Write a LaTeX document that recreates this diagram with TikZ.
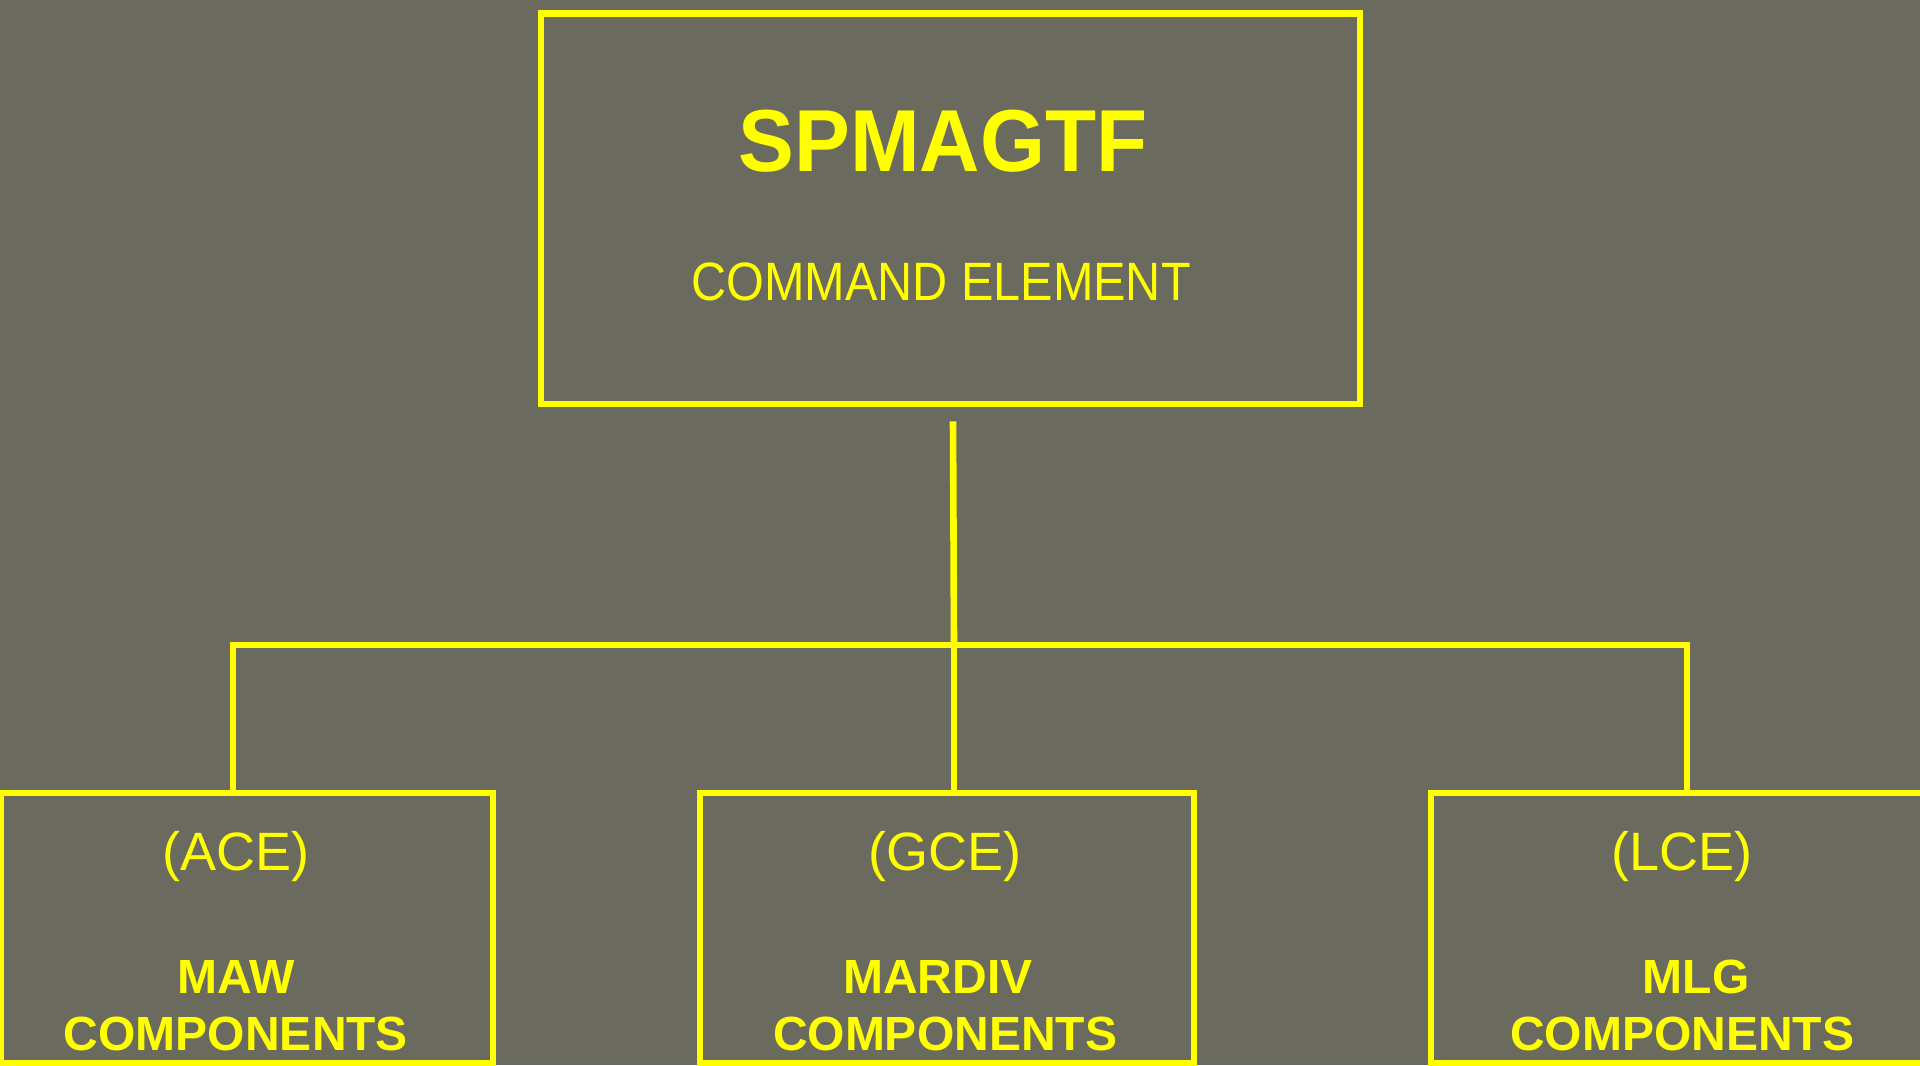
\documentclass[tikz,border=0pt]{standalone}
\usepackage{fontspec}
\setmainfont{Liberation Sans}
\newfontfamily\narrowsans[FakeStretch=0.90]{Liberation Sans}
\newfontfamily\titlesans[FakeStretch=0.95]{Liberation Sans Bold}
\usepackage{xcolor}
\usetikzlibrary{positioning,calc}
\definecolor{slate}{RGB}{106,107,94}
\definecolor{signyellow}{RGB}{255,255,0}

\tikzset{
  orgbox/.style={draw=signyellow,line width=3.3pt,inner sep=0pt,rectangle},
  orgline/.style={draw=signyellow,line width=3.3pt,line join=miter},
  orgtext/.style={text=signyellow,inner sep=0pt,anchor=base},
  codetext/.style={orgtext,font=\fontsize{27}{32}\selectfont},
  unittext/.style={orgtext,font=\bfseries\fontsize{24}{29}\selectfont}
}

\begin{document}
\begin{tikzpicture}[x=0.5pt,y=-0.5pt]
  \path[use as bounding box,fill=slate] (0,0) rectangle (1920,1065);
  \clip (0,0) rectangle (1920,1065);

  % command element
  \node[orgbox,minimum width=409.5pt,minimum height=195.25pt] (ce) at (950.5,208.75) {};
  \node[orgtext,font=\titlesans\fontsize{44}{52}\selectfont] (title) at (943,171) {SPMAGTF};
  \node[orgtext,font=\narrowsans\fontsize{27}{32}\selectfont] (cmd) at (941,300) {COMMAND ELEMENT};

  % major subordinate elements
  \node[orgbox,minimum width=246pt,minimum height=135pt] (ace) at (247,928) {};
  \node[orgbox,minimum width=247pt,minimum height=135pt] (gce) at (947,928) {};
  \node[orgbox,minimum width=284.5pt,minimum height=135pt] (lce) at (1715.5,928) {};

  \node[codetext] (acecode) at (236,870) {(ACE)};
  \node[unittext] (maw) at (236,993) {MAW};
  \node[unittext] (mawcomp) at (236,1050) {COMPONENTS};

  \node[codetext] (gcecode) at (945,870) {(GCE)};
  \node[unittext] (mardiv) at (938,993) {MARDIV};
  \node[unittext] (mardivcomp) at (945,1050) {COMPONENTS};

  \node[codetext] (lcecode) at (1682,870) {(LCE)};
  \node[unittext] (mlg) at (1696,993) {MLG};
  \node[unittext] (mlgcomp) at (1682,1050) {COMPONENTS};

  % connectors
  \coordinate (jace) at (233,645);
  \coordinate (jgce) at (954,645);
  \coordinate (jlce) at (1687,645);

  \draw[orgline] ($(ce.south)+(2.5,14)$) -- (jgce);
  \draw[orgline] (jace |- ace.north) -- (jace) -- (jlce) -- (jlce |- lce.north);
  \draw[orgline] (jgce) -- (jgce |- gce.north);
\end{tikzpicture}
\end{document}
